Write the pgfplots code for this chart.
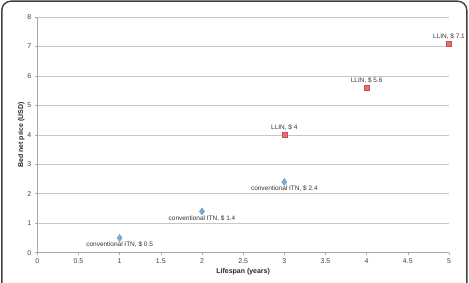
\documentclass[border=0pt]{standalone}
\usepackage{pgfplots}
\pgfplotsset{compat=1.18}
\usepackage{fontspec}
\setmainfont{Liberation Sans}
\definecolor{itn}{RGB}{120,172,216}
\definecolor{llin}{RGB}{232,112,112}
\definecolor{llinb}{RGB}{200,80,80}
\begin{document}
\begin{tikzpicture}[x=1bp,y=1bp]
\useasboundingbox (-37.3,-29.7) rectangle (431.7,252.7);
\begin{scope}
\clip (-37.3,-29.7) rectangle (431.7,252.7);
\draw[line width=1.4bp, color=black!75, rounded corners=9bp] (-35.5,-60) rectangle (429.5,251.5);
\end{scope}
\begin{axis}[
  at={(0,0)}, anchor=origin,
  scale only axis, width=411.7bp, height=235.7bp,
  xmin=0, xmax=5, ymin=0, ymax=8,
  xtick={0,0.5,...,5}, ytick={0,1,...,8},
  xticklabels={0,0.5,1,1.5,2,2.5,3,3.5,4,4.5,5},
  axis x line*=bottom, axis y line*=left,
  axis line style={color=black!35, line width=0.8bp, -},
  tick style={color=black!35, line width=0.6bp},
  tick align=outside, major tick length=2.5bp,
  ymajorgrids, grid style={color=black!22, line width=0.6bp},
  tick label style={font=\fontsize{7}{8}\selectfont, color=black!75},
  /pgf/number format/assume math mode=true,
  xlabel={\textbf{Lifespan (years)}}, ylabel={\textbf{Bed net price (USD)}},
  label style={font=\fontsize{7}{8}\selectfont, color=black!85},
  xlabel style={at={(axis description cs:0.5,0)}, anchor=center, yshift=-19bp},
  ylabel style={at={(axis description cs:0,0.5)}, anchor=center, yshift=16bp},
  clip=false,
  nodes near coords, point meta=explicit symbolic,
  every node near coord/.append style={font=\fontsize{6.5}{7}\selectfont, color=black!80, inner sep=1bp},
]
\addplot[only marks, mark=diamond*, mark size=3.5bp, mark options={fill=itn, draw=itn!85!black, line width=0.3bp},
  every node near coord/.append style={anchor=north, yshift=-3bp}]
  coordinates {(1,0.5) [conventional ITN, \$ 0.5] (2,1.4) [conventional ITN, \$ 1.4] (3,2.4) [conventional ITN, \$ 2.4]};
\addplot[only marks, mark=square*, mark size=2.6bp, mark options={fill=llin, draw=llinb, line width=0.4bp},
  every node near coord/.append style={anchor=south, yshift=3bp}]
  coordinates {(3,4) [LLIN, \$ 4] (4,5.6) [LLIN, \$ 5.6] (5,7.1) [LLIN, \$ 7.1]};
\end{axis}
\end{tikzpicture}
\end{document}
